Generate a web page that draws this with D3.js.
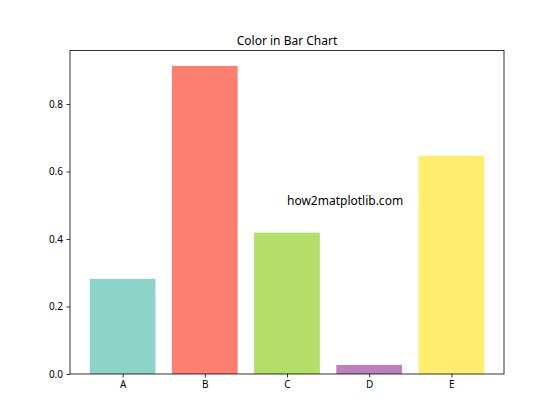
<!DOCTYPE html>
<html>
<head>
<meta charset="utf-8">
<script src="https://cdn.jsdelivr.net/npm/d3@7"></script>
<style>
  body { margin: 0; background: #fff; }
  svg text { font-family: "Noto Sans", "Open Sans", sans-serif; fill: #000; }
</style>
</head>
<body>
<svg id="chart" width="560" height="420"></svg>
<script>
// chart data
const categories = ["A", "B", "C", "D", "E"];
const values = [0.282, 0.913, 0.419, 0.027, 0.647];
const colors = ["#8dd3c7", "#fb8072", "#b3de69", "#bc80bd", "#ffed6f"];
const yTicks = [0.0, 0.2, 0.4, 0.6, 0.8];

const margin = { left: 70, right: 56, top: 50.5, bottom: 46 };
const width = 560 - margin.left - margin.right;
const height = 420 - margin.top - margin.bottom;

const svg = d3.select("#chart");
const g = svg.append("g").attr("transform", `translate(${margin.left},${margin.top})`);

// matplotlib style limits: bars of width 0.8 with 5% margin
const x = d3.scaleLinear().domain([-0.64, categories.length - 1 + 0.64]).range([0, width]);
const y = d3.scaleLinear().domain([0, d3.max(values) * 1.05]).range([height, 0]);
const barW = x(0.8) - x(0);

g.selectAll(".bar")
  .data(values)
  .enter()
  .append("rect")
  .attr("class", "bar")
  .attr("x", (d, i) => x(i) - barW / 2)
  .attr("y", d => y(d))
  .attr("width", barW)
  .attr("height", d => y(0) - y(d))
  .attr("fill", (d, i) => colors[i]);

// axes
const xAxis = d3.axisBottom(x)
  .tickValues(d3.range(categories.length))
  .tickFormat(i => categories[i])
  .tickSize(3.5)
  .tickPadding(3.5);
const yAxis = d3.axisLeft(y)
  .tickValues(yTicks)
  .tickFormat(d3.format(".1f"))
  .tickSize(3.5)
  .tickPadding(3.5);

const gx = g.append("g").attr("transform", `translate(0,${height})`).call(xAxis);
const gy = g.append("g").call(yAxis);
[gx, gy].forEach(a => {
  a.select(".domain").remove();
  a.selectAll(".tick line").attr("stroke", "#000").attr("stroke-width", 0.8);
  a.selectAll(".tick text").style("font-size", "10px").attr("fill", "#000");
});

// frame
g.append("rect")
  .attr("width", width)
  .attr("height", height)
  .attr("fill", "none")
  .attr("stroke", "#000")
  .attr("stroke-width", 0.8);

// title
svg.append("text")
  .attr("x", margin.left + width / 2)
  .attr("y", margin.top - 6)
  .attr("text-anchor", "middle")
  .style("font-size", "12px")
  .text("Color in Bar Chart");

// watermark text
g.append("text")
  .attr("x", x(2))
  .attr("y", y(0.5))
  .style("font-size", "12px")
  .text("how2matplotlib.com");
</script>
</body>
</html>
